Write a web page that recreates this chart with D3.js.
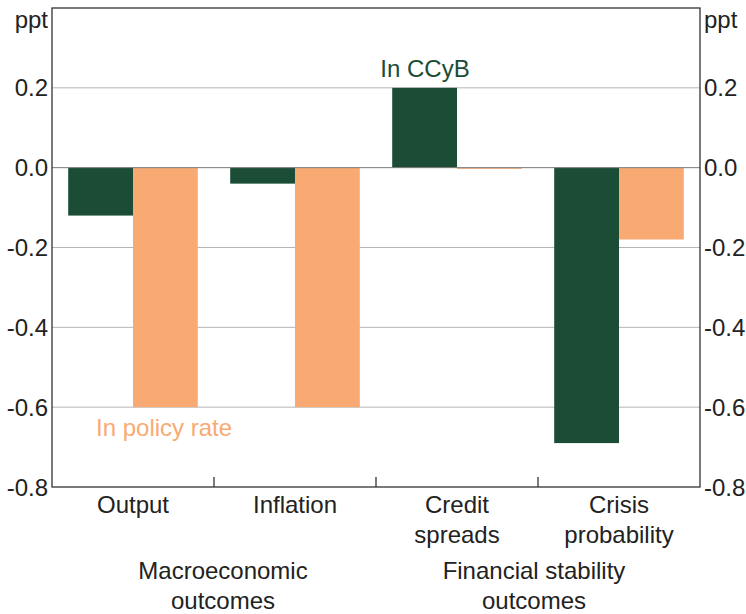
<!DOCTYPE html>
<html>
<head>
<meta charset="utf-8">
<script src="https://cdn.jsdelivr.net/npm/d3@7"></script>
<style>
  html, body { margin: 0; padding: 0; background: #fff; }
  svg { display: block; font-family: Arial, "Liberation Sans", sans-serif; }
</style>
</head>
<body>
<svg id="chart" width="746" height="614"></svg>
<script>
// Categories and their outcome groups
const categories = ["Output", "Inflation", "Credit spreads", "Crisis probability"];
const categoryLines = [["Output"], ["Inflation"], ["Credit", "spreads"], ["Crisis", "probability"]];
const groupLines = [["Macroeconomic", "outcomes"], ["Financial stability", "outcomes"]];
const groupSpans = [[0, 1], [2, 3]];

// Series (ppt)
const seriesNames = ["In CCyB", "In policy rate"];
const ccybValues = [-0.12, -0.04, 0.2, -0.69];
const policyValues = [-0.6, -0.6, -0.003, -0.18];

// Axis ticks
const yTicks = [-0.8, -0.6, -0.4, -0.2, 0.0, 0.2];
const yDomain = [-0.8, 0.4];

const colors = { ccyb: "#1a4c36", policy: "#f9aa73" };
const FS = 24;

const svg = d3.select("#chart");
const m = { left: 52, right: 46, top: 8, bottom: 127 };
const W = 746, H = 614;
const x0 = m.left, x1 = W - m.right, y0 = m.top, y1 = H - m.bottom;

const x = d3.scaleBand().domain(categories).range([x0, x1]).paddingInner(0).paddingOuter(0);
const xs = d3.scaleBand().domain(["ccyb", "policy"]).range([0, x.bandwidth()]).paddingInner(0).paddingOuter(0.25);
const y = d3.scaleLinear().domain(yDomain).range([y1, y0]);

// Gridlines
svg.append("g").selectAll("line").data(yTicks.filter(t => t !== 0 && t !== yDomain[0]))
  .join("line")
  .attr("x1", x0).attr("x2", x1)
  .attr("y1", d => y(d)).attr("y2", d => y(d))
  .attr("stroke", "#b5b5b5").attr("stroke-width", 1);

// Bars
const rows = categories.map((c, i) => ({ c, ccyb: ccybValues[i], policy: policyValues[i] }));
const bars = svg.append("g");
["ccyb", "policy"].forEach(key => {
  bars.selectAll("rect." + key).data(rows).join("rect")
    .attr("class", key)
    .attr("x", d => x(d.c) + xs(key))
    .attr("width", xs.bandwidth())
    .attr("y", d => y(Math.max(0, d[key])))
    .attr("height", d => Math.abs(y(d[key]) - y(0)))
    .attr("fill", colors[key]);
});

// Zero line
svg.append("line")
  .attr("x1", x0).attr("x2", x1).attr("y1", y(0)).attr("y2", y(0))
  .attr("stroke", "#7a7a7a").attr("stroke-width", 1);

// Frame
svg.append("rect").attr("x", x0).attr("y", y0).attr("width", x1 - x0).attr("height", y1 - y0)
  .attr("fill", "none").attr("stroke", "#333").attr("stroke-width", 1.3);

// Category boundary ticks along the bottom
svg.append("g").selectAll("line").data(categories.slice(1)).join("line")
  .attr("x1", d => x(d)).attr("x2", d => x(d))
  .attr("y1", y1).attr("y2", y1 - 10)
  .attr("stroke", "#333").attr("stroke-width", 1.3);

// Y axis labels (left and right)
const fmt = d3.format(".1f");
const tickText = svg.append("g").attr("font-size", FS).attr("fill", "#222");
tickText.selectAll("text.l").data(yTicks).join("text").attr("class", "l")
  .attr("x", x0 - 4).attr("y", d => y(d)).attr("dy", "0.36em")
  .attr("text-anchor", "end").text(d => fmt(d).replace("−", "-"));
tickText.selectAll("text.r").data(yTicks).join("text").attr("class", "r")
  .attr("x", x1 + 4).attr("y", d => y(d)).attr("dy", "0.36em")
  .attr("text-anchor", "start").text(d => fmt(d).replace("−", "-"));
tickText.append("text").attr("x", x0 - 4).attr("y", 28).attr("text-anchor", "end").text("ppt");
tickText.append("text").attr("x", x1 + 4).attr("y", 28).attr("text-anchor", "start").text("ppt");

// Category labels
const catG = svg.append("g").attr("font-size", FS).attr("fill", "#222").attr("text-anchor", "middle");
categoryLines.forEach((lines, i) => {
  const cx = x(categories[i]) + x.bandwidth() / 2;
  const t = catG.append("text").attr("x", cx).attr("y", 513);
  lines.forEach((ln, j) => t.append("tspan").attr("x", cx).attr("dy", j === 0 ? 0 : 30).text(ln));
});

// Group labels
const groupOffsets = [9, -4];
groupLines.forEach((lines, g) => {
  const [a, b] = groupSpans[g];
  const cx = (x(categories[a]) + x(categories[b]) + x.bandwidth()) / 2 + groupOffsets[g];
  const t = catG.append("text").attr("x", cx).attr("y", 579);
  lines.forEach((ln, j) => t.append("tspan").attr("x", cx).attr("dy", j === 0 ? 0 : 30).text(ln));
});

// Series labels
svg.append("text").attr("x", x(categories[2]) + x.bandwidth() / 2 - 32).attr("y", y(0.2) - 11)
  .attr("font-size", FS).attr("fill", colors.ccyb).attr("text-anchor", "middle").text(seriesNames[0]);
svg.append("text").attr("x", 96).attr("y", y(-0.6) + 29)
  .attr("font-size", FS).attr("fill", colors.policy).attr("text-anchor", "start").text(seriesNames[1]);
</script>
</body>
</html>
